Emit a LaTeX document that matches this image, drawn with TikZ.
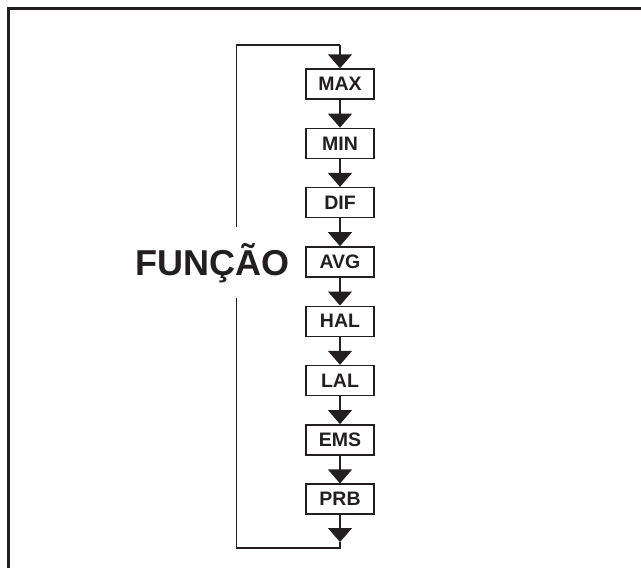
\documentclass[tikz,border=0pt]{standalone}
\usepackage{fontspec}
\setmainfont{Liberation Sans}
\usetikzlibrary{arrows.meta}
\definecolor{ink}{HTML}{231F20}
\tikzset{
  fbox/.style={draw=ink, line width=1.4pt, minimum width=68pt, minimum height=30pt, inner sep=0pt,
    font=\fontsize{19.5}{19.5}\selectfont\bfseries, text=ink},
  conn/.style={draw=ink, line width=1.4pt, -{Triangle[length=14pt,width=24pt]}},
  plain/.style={draw=ink, line width=1.4pt},
  frame/.style={draw=ink, line width=3pt}
}
\begin{document}
\begin{tikzpicture}[x=1pt,y=-1pt]
\useasboundingbox (0,0) rectangle (641,568);
\draw[frame] (8.5,568) -- (8.5,8.5) -- (641,8.5);
\foreach \n [count=\i from 0] in {MAX,MIN,DIF,AVG,HAL,LAL,EMS,PRB}{
  \node[fbox] (\n) at (340,{84+59.3*\i}) {\n};
}
\foreach \a/\b in {MAX/MIN,MIN/DIF,DIF/AVG,AVG/HAL,HAL/LAL,LAL/EMS,EMS/PRB}{
  \draw[conn] (\a) -- (\b);
}
\coordinate (bt) at (340,542);
\coordinate (br) at (340,548);
\coordinate (bl) at (236.5,548);
\coordinate (gb) at (236.5,298);
\coordinate (gt) at (236.5,227);
\coordinate (tl) at (236.5,45);
\coordinate (tr) at (340,45);
\draw[conn] (PRB) -- (bt);
\draw[plain] (bt) -- (br) -- (bl) -- (gb);
\draw[plain] (gt) -- (tl) -- (tr);
\draw[conn] (tr) -- (MAX);
\node[anchor=base, font=\fontsize{36}{36}\selectfont\bfseries, text=ink, inner sep=0pt] (fn) at (212.5,275) {FUNÇÃO};
\end{tikzpicture}
\end{document}
